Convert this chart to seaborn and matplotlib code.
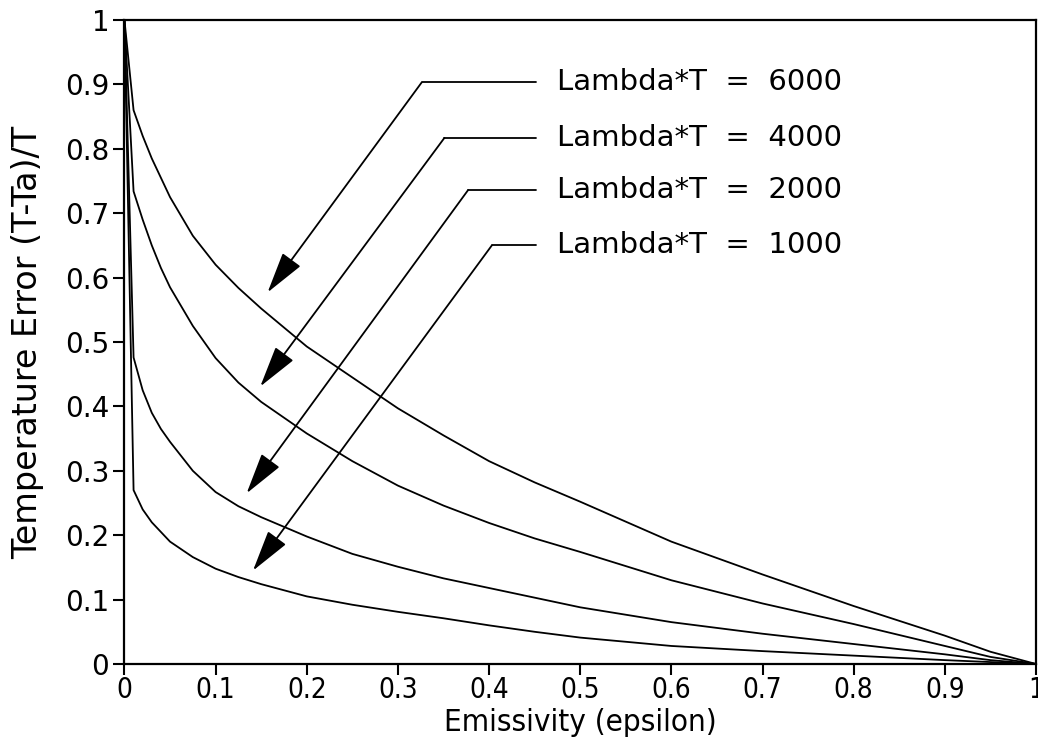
import numpy as np
import pandas as pd
import matplotlib
matplotlib.use("Agg")
import matplotlib.pyplot as plt
import seaborn as sns

# ---- data ----
emissivity = [0.0, 0.01, 0.02, 0.03, 0.04, 0.05, 0.075, 0.1, 0.125, 0.15, 0.2, 0.25,
              0.3, 0.35, 0.4, 0.45, 0.5, 0.6, 0.7, 0.8, 0.9, 0.95, 1.0]
err_6000 = [1.0, 0.86, 0.82, 0.785, 0.755, 0.725, 0.665, 0.620, 0.584, 0.552, 0.493, 0.445,
            0.397, 0.355, 0.315, 0.282, 0.252, 0.190, 0.139, 0.090, 0.044, 0.019, 0.0]
err_4000 = [1.0, 0.734, 0.690, 0.650, 0.615, 0.585, 0.525, 0.475, 0.437, 0.407, 0.358, 0.315,
            0.277, 0.246, 0.219, 0.195, 0.174, 0.130, 0.094, 0.062, 0.028, 0.011, 0.0]
err_2000 = [1.0, 0.476, 0.425, 0.390, 0.365, 0.345, 0.300, 0.267, 0.245, 0.228, 0.198, 0.171,
            0.151, 0.133, 0.118, 0.103, 0.088, 0.065, 0.047, 0.031, 0.015, 0.006, 0.0]
err_1000 = [1.0, 0.270, 0.240, 0.220, 0.205, 0.190, 0.166, 0.148, 0.135, 0.124, 0.105, 0.092,
            0.081, 0.071, 0.060, 0.050, 0.041, 0.028, 0.020, 0.013, 0.006, 0.003, 0.0]
lambda_T = [6000, 4000, 2000, 1000]
series = [err_6000, err_4000, err_2000, err_1000]
labels = ["Lambda*T  =  6000", "Lambda*T  =  4000", "Lambda*T  =  2000", "Lambda*T  =  1000"]

tick_vals = [0.0, 0.1, 0.2, 0.3, 0.4, 0.5, 0.6, 0.7, 0.8, 0.9, 1.0]
tick_labels = ["0", "0.1", "0.2", "0.3", "0.4", "0.5", "0.6", "0.7", "0.8", "0.9", "1"]

# annotation anchors (data coordinates)
label_y = [0.903, 0.817, 0.736, 0.650]
elbow_x = [0.326, 0.351, 0.377, 0.403]
line_end_x = 0.452
text_x = 0.474
tip_x = [0.157, 0.149, 0.134, 0.141]
tip_y = [0.577, 0.431, 0.265, 0.145]

df = pd.concat(
    [pd.DataFrame({"eps": emissivity, "err": s, "lt": lt}) for s, lt in zip(series, lambda_T)],
    ignore_index=True,
)

sns.set_style("ticks")
plt.rcParams["font.family"] = ["DejaVu Sans"]
plt.rcParams["text.color"] = "black"
plt.rcParams["axes.labelcolor"] = "black"
plt.rcParams["xtick.color"] = "black"
plt.rcParams["ytick.color"] = "black"

fig = plt.figure(figsize=(10.38, 7.53), dpi=100)
ax = fig.add_axes([0.1199, 0.1182, 0.9981 - 0.1199, 0.9734 - 0.1182])

sns.lineplot(data=df, x="eps", y="err", hue="lt", palette={k: "black" for k in lambda_T},
             estimator=None, sort=False, legend=False, linewidth=1.3, ax=ax)

ax.set_xlim(0, 1)
ax.set_ylim(0, 1)
ax.set_xticks(tick_vals)
ax.set_xticklabels(tick_labels, fontsize=20, fontstretch="condensed", color="black")
ax.set_yticks(tick_vals)
ax.set_yticklabels(tick_labels, fontsize=20, color="black")
ax.tick_params(axis="both", direction="out", length=8, width=1.5, color="black", pad=3)
ax.tick_params(axis="x", pad=1)

for sp in ax.spines.values():
    sp.set_visible(True)
    sp.set_linewidth(1.6)
    sp.set_color("black")

ax.set_xlabel("Emissivity (epsilon)", fontsize=22.5, fontstretch="condensed", color="black")
ax.xaxis.set_label_coords(0.5, -0.069)
ax.set_ylabel("Temperature Error (T-Ta)/T", fontsize=24, color="black")
ax.yaxis.set_label_coords(-0.088, 0.5)

for lab, ly, ex, tx, ty in zip(labels, label_y, elbow_x, tip_x, tip_y):
    ax.plot([ex, line_end_x], [ly, ly], color="black", lw=1.3)
    ax.annotate("", xy=(tx, ty), xytext=(ex, ly),
                arrowprops=dict(arrowstyle="-|>,head_length=1.3,head_width=0.35",
                                color="black", lw=1.3, shrinkA=0, shrinkB=0,
                                mutation_scale=20))
    ax.text(text_x, ly, lab, fontsize=21, ha="left", va="center", color="black")

fig.savefig("out.png", dpi=100)
